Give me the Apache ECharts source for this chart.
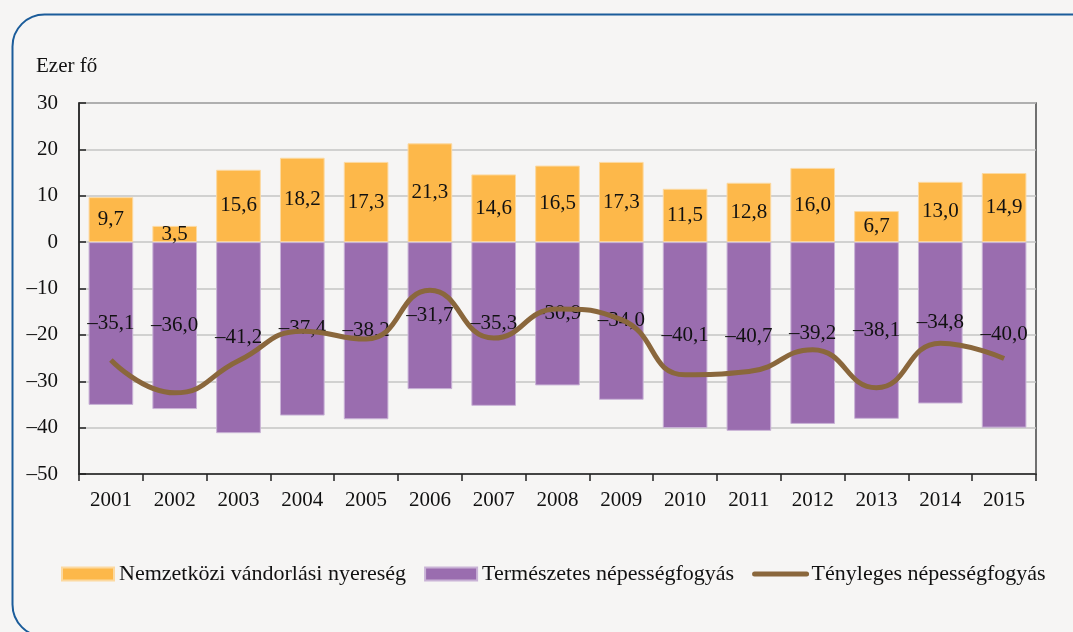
<!DOCTYPE html>
<html>
<head>
<meta charset="utf-8">
<script src="https://cdn.jsdelivr.net/npm/echarts@6/dist/echarts.min.js"></script>
<style>
  html, body { margin: 0; padding: 0; background: #f6f5f4; }
  #chart { width: 1073px; height: 632px; }
</style>
</head>
<body>
<div id="chart"></div>
<script>
var years = ['2001', '2002', '2003', '2004', '2005', '2006', '2007', '2008',
  '2009', '2010', '2011', '2012', '2013', '2014', '2015'];
var migration = [9.7, 3.5, 15.6, 18.2, 17.3, 21.3, 14.6, 16.5, 17.3, 11.5, 12.8, 16.0, 6.7, 13.0, 14.9];
var naturalLoss = [-35.1, -36.0, -41.2, -37.4, -38.2, -31.7, -35.3, -30.9, -34.0, -40.1, -40.7, -39.2, -38.1, -34.8, -40.0];
var actualLoss = [-25.4, -32.5, -25.6, -19.2, -20.9, -10.4, -20.7, -14.4, -16.7, -28.6, -27.9, -23.2, -31.4, -21.8, -25.1];

var font = '"Liberation Serif", "DejaVu Serif", serif';

function huNum(v) {
  var s = Math.abs(v).toFixed(1).replace('.', ',');
  return (v < 0 ? '\u2013' : '') + s;
}

var chart = echarts.init(document.getElementById('chart'));

var option = {
  backgroundColor: '#f6f5f4',
  textStyle: { fontFamily: font },
  animation: false,
  graphic: [{
    type: 'rect',
    left: 10, top: 12,
    shape: { width: 1090, height: 622, r: 32 },
    style: { fill: 'none', stroke: '#1b5c9a', lineWidth: 2 },
    z: -1
  }, {
    type: 'text',
    left: 36, top: 56,
    style: { text: 'Ezer fő', font: '21px ' + font, fill: '#111' }
  }],
  legend: {
    top: 558,
    left: 56,
    itemWidth: 52,
    itemHeight: 13,
    itemGap: 18,
    textStyle: { fontFamily: font, fontSize: 22, color: '#111' },
    data: [
      { name: 'Nemzetközi vándorlási nyereség', icon: 'rect' },
      { name: 'Természetes népességfogyás', icon: 'rect' },
      {
        name: 'Tényleges népességfogyás',
        itemStyle: { opacity: 0 },
        lineStyle: { width: 5, color: '#8a673c', cap: 'round', opacity: 1 }
      }
    ]
  },
  grid: {
    left: 79, right: 37, top: 103, bottom: 158,
    show: true,
    borderColor: '#444',
    borderWidth: 1.5,
    backgroundColor: 'transparent'
  },
  xAxis: {
    type: 'category',
    data: years,
    axisLine: { onZero: false, lineStyle: { color: '#222', width: 1.5 } },
    axisTick: { show: true, length: 7, lineStyle: { color: '#222', width: 1.5 } },
    axisLabel: { fontFamily: font, fontSize: 21, color: '#111', margin: 16 }
  },
  yAxis: {
    type: 'value',
    min: -50, max: 30, interval: 10,
    axisLine: { show: true, lineStyle: { color: '#222', width: 1.5 } },
    axisTick: { show: true, inside: true, length: 7, lineStyle: { color: '#222', width: 1.5 } },
    splitLine: { lineStyle: { color: '#c4c4c4', width: 1.5 } },
    axisLabel: {
      fontFamily: font, fontSize: 21, color: '#111', margin: 21,
      formatter: function (v) { return v < 0 ? '\u2013' + Math.abs(v) : String(v); }
    }
  },
  series: [{
    name: 'Nemzetközi vándorlási nyereség',
    type: 'bar',
    stack: 'total',
    data: migration,
    barWidth: '70%',
    itemStyle: { color: '#fdb84a', borderColor: '#fcd9a0', borderWidth: 1 },
    label: {
      show: true, position: 'inside',
      fontFamily: font, fontSize: 21, color: '#111',
      formatter: function (p) { return huNum(p.value); }
    }
  }, {
    name: 'Természetes népességfogyás',
    type: 'bar',
    stack: 'total',
    data: naturalLoss,
    barWidth: '70%',
    itemStyle: { color: '#9a6daf', borderColor: '#c9b3d6', borderWidth: 1 },
    label: {
      show: true, position: 'inside',
      fontFamily: font, fontSize: 21, color: '#111',
      formatter: function (p) { return huNum(p.value); }
    }
  }, {
    name: 'Tényleges népességfogyás',
    type: 'line',
    data: actualLoss,
    smooth: 0.5,
    symbol: 'none',
    z: 3,
    lineStyle: { color: '#8a673c', width: 5 },
    itemStyle: { color: '#8a673c' }
  }]
};

chart.setOption(option);
</script>
</body>
</html>
